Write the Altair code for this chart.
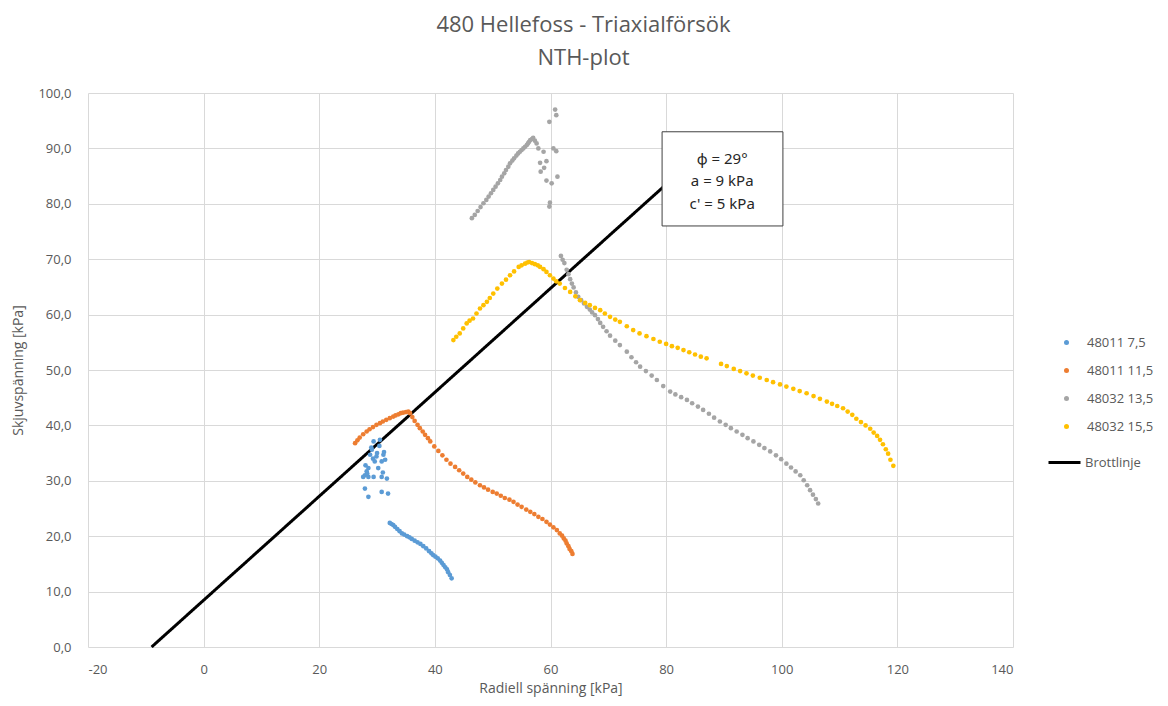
import altair as alt
import pandas as pd

# ---- data ----
s1_name = "48011 7,5"
s1_x = [30.5, 29.4, 29.1, 28.8, 29.9, 31.1, 31.4, 30.8, 29.6, 28.5, 28.2, 27.9, 27.6, 28.5, 29.4,
        30.8, 31.7, 30.2, 27.9, 28.5, 30.8, 31.9, 29.0, 28.0, 30.0, 31.0, 29.3, 28.3, 30.4, 31.2,
        32.2, 32.5, 32.8, 33.1, 33.5, 33.9, 34.3, 34.7, 35.2, 35.6, 36.0, 36.5, 37.0, 37.5, 38.0,
        38.5, 39.0, 39.4, 39.7, 40.1, 40.5, 40.9, 41.2, 41.5, 41.8, 42.1, 42.3, 42.6, 42.9]
s1_y = [37.4, 37.1, 35.6, 34.7, 34.4, 34.7, 33.8, 33.5, 33.5, 32.3, 31.7, 31.0, 30.7, 30.7, 30.7,
        30.7, 30.4, 32.3, 28.6, 27.1, 28.0, 27.7, 36.0, 32.8, 35.0, 31.5, 34.0, 31.3, 36.3, 35.2,
        22.4, 22.2, 22.0, 21.7, 21.3, 20.9, 20.5, 20.3, 20.0, 19.8, 19.5, 19.2, 18.9, 18.6, 18.2,
        17.8, 17.3, 16.9, 16.6, 16.3, 16.0, 15.6, 15.2, 14.8, 14.4, 14.0, 13.5, 13.0, 12.4]

s2_name = "48011 11,5"
s2_x = [26.2, 26.6, 27.0, 27.6, 28.2, 28.7, 29.3, 29.9, 30.5, 31.0, 31.6, 32.2, 32.8, 33.2, 33.7,
        34.1, 34.5, 35.0, 35.4,
        35.7, 36.1, 36.5, 37.0, 37.4, 37.9, 38.3, 38.8, 39.2, 39.9, 40.6, 41.3, 42.0, 42.7, 43.5,
        44.2, 44.9, 45.6, 46.3, 47.0, 47.8, 48.5, 49.2, 50.0, 50.7, 51.4, 52.1, 52.9, 53.6, 54.3,
        55.0, 55.8, 56.5, 57.2, 57.9, 58.6, 59.3, 59.9, 60.5, 61.1, 61.6, 62.0, 62.3, 62.6, 62.8,
        63.1, 63.3, 63.6, 63.8]
s2_y = [36.8, 37.3, 37.8, 38.4, 38.9, 39.3, 39.7, 40.1, 40.4, 40.7, 41.0, 41.3, 41.6, 41.8, 42.0,
        42.2, 42.3, 42.4, 42.5,
        42.2, 41.5, 40.8, 40.1, 39.5, 38.9, 38.3, 37.7, 37.1, 36.2, 35.4, 34.6, 33.8, 33.1, 32.5,
        31.9, 31.3, 30.7, 30.2, 29.7, 29.2, 28.8, 28.4, 28.0, 27.7, 27.3, 26.9, 26.6, 26.2, 25.7,
        25.3, 24.8, 24.4, 24.0, 23.5, 23.1, 22.6, 22.1, 21.6, 21.1, 20.5, 20.1, 19.6, 19.2, 18.7,
        18.2, 17.7, 17.3, 16.8]

s3_name = "48032 13,5"
s3_x = [46.4, 46.9, 47.4, 47.9, 48.4, 48.9, 49.3, 49.7, 50.1, 50.5, 50.9, 51.3, 51.6, 52.0, 52.3,
        52.7, 53.0, 53.4, 53.7, 54.1, 54.4, 54.7, 55.0, 55.3, 55.6, 55.9, 56.1, 56.3, 56.5, 56.8,
        57.0, 57.3, 57.6, 57.9,
        60.8, 61.0, 59.8, 58.8, 60.5, 61.0, 58.2, 59.3, 58.9, 58.3, 59.3, 60.2, 61.2, 59.9, 59.8,
        61.8, 62.1, 62.4, 62.8, 63.1, 63.4, 63.7, 64.0, 64.4, 64.8, 65.3, 65.8, 66.3, 66.8, 67.2,
        67.7, 68.2, 68.6, 69.1, 69.7, 70.3, 71.2, 72.0, 73.2, 74.0, 74.8, 75.5, 76.5, 77.5, 78.4,
        79.5, 80.7, 81.6, 82.6, 83.6, 84.5, 85.5, 86.4, 87.4, 88.3, 89.3, 90.3, 91.2, 92.2, 93.2,
        94.1, 95.1, 96.1, 97.0, 98.0, 99.0, 99.9, 100.8, 101.6, 102.4, 103.2, 103.8, 104.4, 104.9,
        105.4, 105.9, 106.3]
s3_y = [77.4, 78.0, 78.7, 79.4, 80.1, 80.7, 81.3, 81.9, 82.5, 83.1, 83.7, 84.3, 84.9, 85.5, 86.1,
        86.7, 87.3, 87.8, 88.2, 88.7, 89.1, 89.4, 89.7, 90.0, 90.3, 90.6, 90.9, 91.2, 91.5, 91.7,
        91.9, 91.4, 90.9, 90.0,
        97.0, 96.0, 94.8, 89.4, 90.0, 89.5, 87.4, 87.7, 86.5, 85.8, 84.2, 83.7, 84.9, 80.2, 79.5,
        70.6, 69.9, 69.3, 68.1, 67.3, 66.4, 65.6, 64.9, 64.0, 63.2, 62.6, 62.0, 61.4, 60.9, 60.4,
        59.9, 59.2, 58.5, 57.8, 57.0, 56.2, 55.3, 54.5, 53.3, 52.3, 51.4, 50.6, 49.8, 49.0, 48.2,
        47.1, 46.1, 45.6, 45.1, 44.6, 44.0, 43.4, 42.8, 42.1, 41.4, 40.7, 40.1, 39.5, 38.9, 38.3,
        37.7, 37.1, 36.5, 35.9, 35.3, 34.6, 33.9, 33.1, 32.4, 31.7, 31.0, 30.1, 29.2, 28.3,
        27.5, 26.7, 25.9]

s4_name = "48032 15,5"
s4_x = [43.2, 43.7, 44.3, 44.9, 45.5, 46.0, 46.6, 47.2, 47.8, 48.4, 49.0, 49.5, 50.1, 50.8, 51.6,
        52.3, 53.0, 53.7, 54.5, 55.0, 55.6, 56.0, 56.3, 56.8, 57.3, 57.8, 58.2, 58.8, 59.3, 59.9,
        60.5, 61.0, 61.6, 62.5, 63.4, 64.3, 65.1, 66.0, 66.8, 67.7, 68.6, 69.4, 70.3, 71.2, 72.0,
        73.2, 74.3, 75.4, 76.6, 77.8, 78.9, 80.0, 81.0, 82.0, 83.0, 84.0, 85.0, 86.0, 87.0, 89.5,
        90.5, 91.7, 92.8, 93.9, 95.0, 96.2, 97.4, 98.5, 99.7, 100.8, 102.0, 103.1, 104.3, 105.5,
        106.6, 107.8, 108.7, 109.6, 110.6, 111.4, 112.2, 112.9, 113.7, 114.5, 115.3, 115.9, 116.5,
        117.0, 117.5, 118.0, 118.4, 118.8, 119.3]
s4_y = [55.4, 56.0, 56.6, 57.5, 58.4, 58.9, 59.3, 60.2, 61.1, 61.7, 62.3, 63.0, 63.8, 64.7, 65.6,
        66.3, 67.1, 67.8, 68.6, 68.9, 69.2, 69.4, 69.5, 69.3, 69.1, 68.9, 68.6, 68.2, 67.7, 67.1,
        66.5, 66.0, 65.6, 64.8, 64.1, 63.3, 62.6, 62.1, 61.7, 61.2, 60.8, 60.2, 59.6, 59.1, 58.7,
        57.9, 57.2, 56.6, 56.1, 55.6, 55.1, 54.7, 54.3, 54.0, 53.6, 53.2, 52.8, 52.4, 52.1, 51.1,
        50.7, 50.2, 49.8, 49.4, 49.0, 48.6, 48.2, 47.8, 47.4, 47.0, 46.6, 46.2, 45.8, 45.3,
        44.8, 44.3, 43.9, 43.5, 43.1, 42.5, 41.9, 41.2, 40.6, 40.0, 39.4, 38.7, 38.1,
        37.4, 36.6, 35.7, 34.9, 33.8, 32.7]

line_name = "Brottlinje"
line_x = [-9.0, 80.0]
line_y = [0.0, 83.5]

note_lines = ["ϕ = 29°", "a = 9 kPa", "c' = 5 kPa"]
note_box_x = [79.3, 100.2]
note_box_y = [76.0, 93.0]
note_text_xy = [89.7, 88.1]

series_names = [s1_name, s2_name, s3_name, s4_name]
series_colors = ["#5B9BD5", "#ED7D31", "#A5A5A5", "#FFC000"]

# ---- tables ----
rows = []
for name, xs, ys in [(s1_name, s1_x, s1_y), (s2_name, s2_x, s2_y),
                     (s3_name, s3_x, s3_y), (s4_name, s4_x, s4_y)]:
    for a, b in zip(xs, ys):
        rows.append({"x": a, "y": b, "serie": name})
pts = pd.DataFrame(rows)
line_df = pd.DataFrame({"x": line_x, "y": line_y, "name": [line_name] * 2})
box_df = pd.DataFrame({"x": [note_box_x[0]], "x2": [note_box_x[1]],
                       "y": [note_box_y[0]], "y2": [note_box_y[1]]})
txt_df = pd.DataFrame({"x": [note_text_xy[0]], "y": [note_text_xy[1]]})

FONT = "Open Sans"
GREY = "#595959"

xscale = alt.Scale(domain=[-20, 140], nice=False, zero=False)
yscale = alt.Scale(domain=[0, 100], nice=False, zero=False)

xaxis = alt.Axis(values=list(range(-20, 141, 20)), title="Radiell spänning [kPa]",
                 labelExpr="'' + datum.value", grid=True, domain=False, ticks=False,
                 labelPadding=16, titlePadding=5)
yaxis = alt.Axis(values=list(range(0, 101, 10)), title="Skjuvspänning [kPa]",
                 labelExpr="replace(format(datum.value, '.1f'), '.', ',')",
                 grid=True, domain=False, ticks=False, labelPadding=17, titlePadding=12)

points = alt.Chart(pts).mark_circle(size=22, opacity=1).encode(
    x=alt.X("x:Q", scale=xscale, axis=xaxis),
    y=alt.Y("y:Q", scale=yscale, axis=yaxis),
    color=alt.Color("serie:N", scale=alt.Scale(domain=series_names, range=series_colors),
                    legend=alt.Legend(title=None, orient="none", legendX=972, legendY=243,
                                      symbolType="circle", symbolSize=25, labelOffset=14,
                                      rowPadding=14, labelFontSize=13, labelColor=GREY,
                                      labelFont=FONT)),
)

line = alt.Chart(line_df).mark_line(color="black", strokeWidth=3).encode(
    x="x:Q", y="y:Q",
    strokeDash=alt.StrokeDash("name:N", scale=alt.Scale(domain=[line_name], range=[[1, 0]]),
                              legend=alt.Legend(title=None, orient="none", legendX=959, legendY=352,
                                                symbolSize=1024, symbolStrokeWidth=3,
                                                symbolStrokeColor="black", labelOffset=3,
                                                labelFontSize=13, labelColor=GREY, labelFont=FONT)),
)

box = alt.Chart(box_df).mark_rect(fill="white", stroke="#404040", strokeWidth=1).encode(
    x="x:Q", x2="x2:Q", y="y:Q", y2="y2:Q")

txt = alt.Chart(txt_df).mark_text(font="Noto Sans", fontSize=15, color="#262626", lineHeight=22.5,
                                  align="center", baseline="middle").encode(
    x="x:Q", y="y:Q", text=alt.value(note_lines))

chart = alt.layer(line, points, box, txt).properties(
    width=925, height=554,
    autosize=alt.AutoSizeParams(type="none"),
    padding={"left": 80, "top": 85, "right": 147, "bottom": 51},
    title=alt.TitleParams(["480 Hellefoss - Triaxialförsök", "NTH-plot"], anchor="middle",
                          frame="group", dx=33, offset=17, fontSize=22, font=FONT,
                          fontWeight="normal", color=GREY, lineHeight=33),
).configure_view(stroke=None).configure_axis(
    gridColor="#D9D9D9", gridWidth=1, labelFont=FONT, labelFontSize=13, labelColor=GREY,
    titleFont=FONT, titleFontSize=14, titleFontWeight="normal", titleColor=GREY,
)

chart.save("out.html", embed_options={"renderer": "svg", "actions": False})
